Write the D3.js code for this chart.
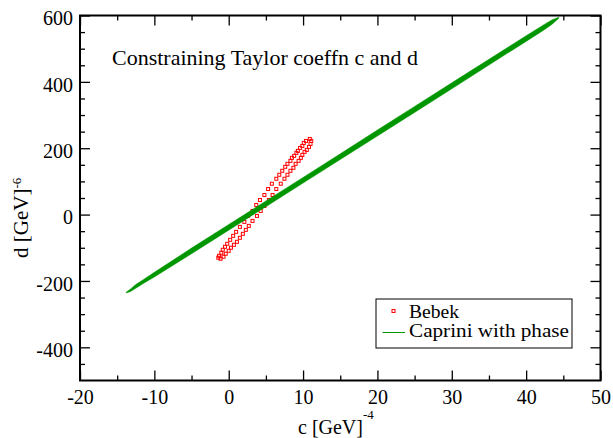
<!DOCTYPE html>
<html>
<head>
<meta charset="utf-8">
<script src="https://cdn.jsdelivr.net/npm/d3@7"></script>
<style>
  body { margin: 0; background: #fff; }
  svg text { font-family: "Liberation Serif", "Times New Roman", serif; fill: #000; }
</style>
</head>
<body>
<div id="chart"></div>
<script>
// Bebek: points round the thin ellipse (upper-left edge, then lower-right edge)
const bebekC = [10.9, 10.4, 10.1, 9.9, 9.6, 9.3, 9.1, 8.8, 8.5, 8.3, 7.9, 7.6, 7.2, 6.8, 6.4, 5.8, 5.3, 4.8, 4.2, 3.7, 3.2, 2.6, 2.1, 1.5, 1.0, 0.6, 0.2, -0.2, -0.5, -0.8, -1.0, -1.3, -1.4,
                11.1, 11.0, 10.8, 10.5, 10.2, 9.9, 9.7, 9.4, 9.0, 8.7, 8.3, 7.9, 7.5, 7.0, 6.4, 5.9, 5.4, 4.8, 4.3, 3.8, 3.2, 2.7, 2.3, 1.9, 1.5, 1.1, 0.7, 0.3, 0.0, -0.4, -0.7, -1.1];
const bebekD = [228, 222, 216, 207, 201, 192, 186, 177, 171, 162, 153, 144, 132, 120, 108, 93, 77, 59, 44, 29, 11, -4, -22, -37, -52, -64, -76, -88, -97, -106, -115, -124, -130,
                222, 213, 204, 195, 189, 180, 171, 162, 153, 141, 132, 120, 108, 93, 77, 59, 44, 26, 11, -4, -19, -34, -46, -58, -70, -82, -91, -100, -109, -118, -127, -133];

// Caprini with phase: lower and upper edge of the band
const capriniC    = [-13.8, -13.2, -12.5, -11.5, -10, -5, 0, 5, 10, 15, 20, 25, 30, 35, 40, 42.5, 43.5, 44.4];
const capriniLow  = [-236, -232, -222, -208, -188, -118, -47, 24, 95, 166, 237, 308, 379, 451, 522, 558, 574, 592];
const capriniHigh = [-234, -224, -211, -196, -174, -101, -30, 41, 112, 183, 255, 326, 397, 468, 539, 574, 587, 595];

// axis ticks
const cMajor = [-20, -10, 0, 10, 20, 30, 40, 50];
const cMinor = [-15, -5, 5, 15, 25, 35, 45];
const dMajor = [-400, -200, 0, 200, 400, 600];
const dMinor = [-450, -350, -300, -250, -150, -100, -50, 50, 100, 150, 250, 300, 350, 450, 500, 550];

const title = "Constraining Taylor coeffn c and d";
const seriesNames = ["Bebek", "Caprini with phase"];

const red = "#ff0000";
const green = "#009600";
const serif = "'Liberation Serif', 'Times New Roman', serif";

const margin = { top: 15.5, right: 12.5, bottom: 57.5, left: 80 };
const width = 613 - margin.left - margin.right;
const height = 438 - margin.top - margin.bottom;

const svg = d3.select("#chart")
    .append("svg")
    .attr("width", 613)
    .attr("height", 438)
    .append("g")
    .attr("transform", `translate(${margin.left},${margin.top})`);

const x = d3.scaleLinear().domain([-20, 50]).range([0, width]);
const y = d3.scaleLinear().domain([-500, 600]).range([height, 0]);

// Bebek markers
svg.append("g")
    .selectAll("rect")
    .data(d3.range(bebekC.length))
    .enter()
    .append("rect")
    .attr("x", i => x(bebekC[i]) - 1.5)
    .attr("y", i => y(bebekD[i]) - 1.5)
    .attr("width", 3)
    .attr("height", 3)
    .attr("fill", "none")
    .attr("stroke", red)
    .attr("stroke-width", 1);

// Caprini band
const band = d3.area()
    .x(i => x(capriniC[i]))
    .y0(i => y(capriniLow[i]))
    .y1(i => y(capriniHigh[i]));

svg.append("path")
    .datum(d3.range(capriniC.length))
    .attr("d", band)
    .attr("fill", green)
    .attr("stroke", green)
    .attr("stroke-width", 0.5);

// Axes, ticks pointing inward on all four sides
function styleAxis(g) {
    g.attr("font-family", serif).attr("font-size", 20);
    g.select(".domain").remove();
    g.selectAll("line").attr("stroke", "#000").attr("stroke-width", 1.3);
    g.selectAll("text").attr("fill", "#000").style("font-family", serif).style("font-size", "20px");
}

svg.append("g")
    .attr("transform", `translate(0,${height})`)
    .call(d3.axisBottom(x).tickValues(cMajor).tickSize(-10).tickPadding(9).tickFormat(d => d))
    .call(styleAxis);
svg.append("g")
    .attr("transform", `translate(0,${height})`)
    .call(d3.axisBottom(x).tickValues(cMinor).tickSize(-5).tickFormat(""))
    .call(styleAxis);
svg.append("g")
    .call(d3.axisTop(x).tickValues(cMajor).tickSize(-10).tickFormat(""))
    .call(styleAxis);
svg.append("g")
    .call(d3.axisTop(x).tickValues(cMinor).tickSize(-5).tickFormat(""))
    .call(styleAxis);

svg.append("g")
    .call(d3.axisLeft(y).tickValues(dMajor).tickSize(-10).tickPadding(7).tickFormat(d => d))
    .call(styleAxis)
    .call(g => g.selectAll("text").attr("dy", "0.46em"));
svg.append("g")
    .call(d3.axisLeft(y).tickValues(dMinor).tickSize(-5).tickFormat(""))
    .call(styleAxis);
svg.append("g")
    .attr("transform", `translate(${width},0)`)
    .call(d3.axisRight(y).tickValues(dMajor).tickSize(-10).tickFormat(""))
    .call(styleAxis);
svg.append("g")
    .attr("transform", `translate(${width},0)`)
    .call(d3.axisRight(y).tickValues(dMinor).tickSize(-5).tickFormat(""))
    .call(styleAxis);

// Frame
svg.append("rect")
    .attr("width", width)
    .attr("height", height)
    .attr("fill", "none")
    .attr("stroke", "#000")
    .attr("stroke-width", 2);

// Title inside the plot
svg.append("text")
    .attr("x", 32)
    .attr("y", 49)
    .attr("textLength", 306)
    .attr("lengthAdjust", "spacingAndGlyphs")
    .style("font-size", "21px")
    .text(title);

// Axis labels
const xLabel = svg.append("text")
    .attr("x", 218)
    .attr("y", height + 53)
    .style("font-size", "20px");
xLabel.append("tspan").text("c [GeV]");
xLabel.append("tspan").attr("dy", -15).style("font-size", "13px").text("-4");

const yLabel = svg.append("text")
    .attr("transform", "rotate(-90)")
    .attr("x", -(258 - margin.top))
    .attr("y", -52)
    .style("font-size", "21px");
yLabel.append("tspan").text("d [GeV]");
yLabel.append("tspan").attr("dy", -7).style("font-size", "13px").text("-6");

// Legend
const legend = svg.append("g")
    .attr("transform", `translate(${376 - margin.left},${299 - margin.top})`);

legend.append("rect")
    .attr("width", 196)
    .attr("height", 49)
    .attr("fill", "#fff")
    .attr("stroke", "#000")
    .attr("stroke-width", 1);

legend.append("rect")
    .attr("x", 16)
    .attr("y", 10.5)
    .attr("width", 3)
    .attr("height", 3)
    .attr("fill", "none")
    .attr("stroke", red);

legend.append("line")
    .attr("x1", 6.5)
    .attr("x2", 29)
    .attr("y1", 33.5)
    .attr("y2", 33.5)
    .attr("stroke", green)
    .attr("stroke-width", 1);

legend.selectAll("text.entry")
    .data(seriesNames)
    .enter()
    .append("text")
    .attr("class", "entry")
    .attr("x", 33)
    .attr("y", (d, i) => 19 + i * 19)
    .attr("textLength", (d, i) => i === 0 ? 50 : 160)
    .attr("lengthAdjust", "spacingAndGlyphs")
    .style("font-size", "19px")
    .text(d => d);
</script>
</body>
</html>
